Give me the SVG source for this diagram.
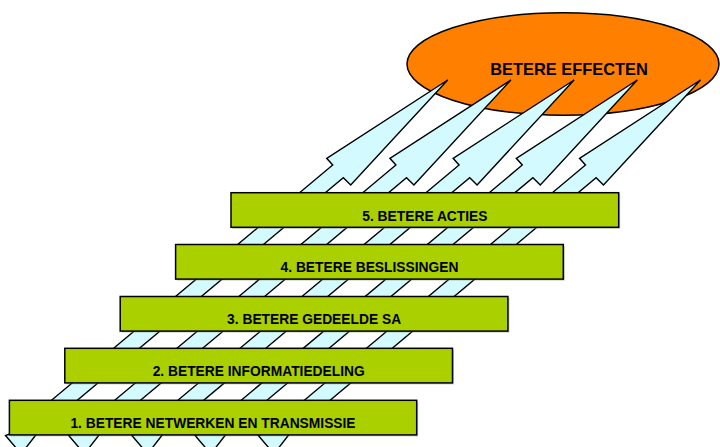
<svg xmlns="http://www.w3.org/2000/svg" xmlns:xlink="http://www.w3.org/1999/xlink" width="720" height="447" viewBox="0 0 720 447">
<style>
.box{fill:#aad000;stroke:#000;stroke-width:1.5}
.shadow{fill:#8a8a8a;opacity:0.45}
.lbl{font-family:"Liberation Sans",Arial,sans-serif;font-weight:bold;font-size:13.8px;fill:#000;text-anchor:middle}
.arrow{fill:#d3fbff;stroke:#000;stroke-width:1.4;stroke-linejoin:miter}
</style>
<defs>
<polygon id="bolt" class="arrow" points="447.7,80 326.7,158.3 332.7,165 12.4,433 5.5,435.5 17,449 25,449 35.8,435 343.3,177.7 350.7,185"/>
</defs>
<rect width="720" height="447" fill="#fff"/>
<g id="effecten">
<ellipse cx="563" cy="64" rx="156" ry="51.2" fill="#ff7f00" stroke="#000" stroke-width="1.5"/>
<text x="569" y="75" font-family="Liberation Sans,Arial,sans-serif" font-weight="bold" font-size="16.4" text-anchor="middle">BETERE EFFECTEN</text>
</g>
<g id="connectors">
<use xlink:href="#bolt"/>
<use xlink:href="#bolt" transform="translate(63.2,0)"/>
<use xlink:href="#bolt" transform="translate(126.4,0)"/>
<use xlink:href="#bolt" transform="translate(189.6,0)"/>
<use xlink:href="#bolt" transform="translate(252.8,0)"/>
</g>
<g id="box5">
<rect class="shadow" x="232.5" y="194.2" width="387.7" height="34.6"/>
<rect class="box" x="231" y="192.7" width="387.7" height="34.6"/>
<text class="lbl" x="424.9" y="220.7">5. BETERE ACTIES</text>
</g>
<g id="box4">
<rect class="shadow" x="177.1" y="246" width="387.7" height="34.6"/>
<rect class="box" x="175.6" y="244.5" width="387.7" height="34.6"/>
<text class="lbl" x="369.5" y="272.4">4. BETERE BESLISSINGEN</text>
</g>
<g id="box3">
<rect class="shadow" x="121.7" y="298" width="387.7" height="34.6"/>
<rect class="box" x="120.2" y="296.5" width="387.7" height="34.6"/>
<text class="lbl" x="314.1" y="324.3">3. BETERE GEDEELDE SA</text>
</g>
<g id="box2">
<rect class="shadow" x="66.3" y="349.8" width="387.7" height="34.6"/>
<rect class="box" x="64.8" y="348.3" width="387.7" height="34.6"/>
<text class="lbl" x="258.7" y="376.3">2. BETERE INFORMATIEDELING</text>
</g>
<g id="box1">
<rect class="shadow" x="10.9" y="401.8" width="407.3" height="34.6"/>
<rect class="box" x="9.4" y="400.3" width="407.3" height="34.6"/>
<text class="lbl" x="213" y="428.3">1. BETERE NETWERKEN EN TRANSMISSIE</text>
</g>
</svg>
